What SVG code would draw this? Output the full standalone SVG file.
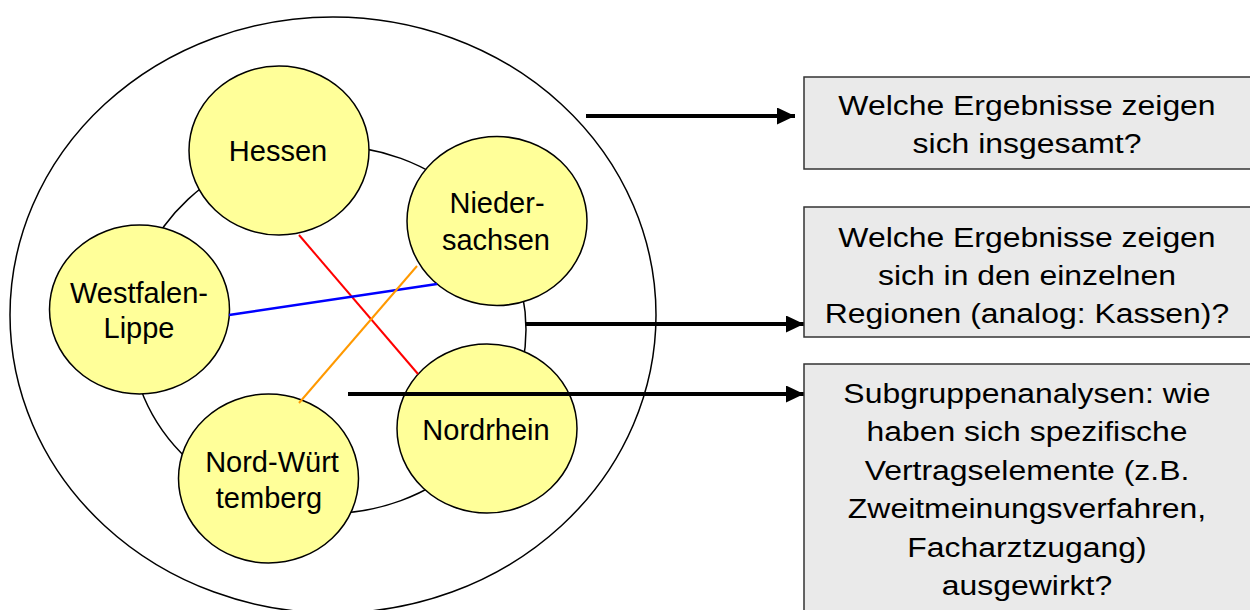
<svg xmlns="http://www.w3.org/2000/svg" width="1250" height="610" viewBox="0 0 1250 610">
<style>
.ring{fill:none;stroke:#000;stroke-width:1.5}
.node{fill:#ffff99;stroke:#000;stroke-width:1.5}
.nt{font-family:"Liberation Sans",Arial,sans-serif;font-size:29px;fill:#000;text-anchor:middle}
.box{fill:#eaeaea;stroke:#333;stroke-width:1.5}
.bt{font-family:"Liberation Sans",Arial,sans-serif;font-size:28px;fill:#000;text-anchor:middle}
.arr{stroke:#000;stroke-width:4;fill:none;marker-end:url(#ah)}
</style>
<defs>
<marker id="ah" markerUnits="userSpaceOnUse" markerWidth="18" markerHeight="17" refX="18" refY="8.5" orient="auto">
<path d="M0,0 L18,8.5 L0,17 z" fill="#000"/>
</marker>
</defs>
<rect width="1250" height="610" fill="#fff"/>
<g id="rings">
<ellipse class="ring" cx="333" cy="315" rx="323" ry="298"/>
<ellipse class="ring" cx="328" cy="329.5" rx="198" ry="184"/>
</g>
<g id="hessen">
<ellipse class="node" cx="279" cy="150.5" rx="90" ry="84.5"/>
<text class="nt" x="278" y="161">Hessen</text>
</g>
<g id="niedersachsen">
<ellipse class="node" cx="497" cy="221" rx="90" ry="84.5"/>
<text class="nt" x="497" y="213">Nieder-</text>
<text class="nt" x="496" y="250">sachsen</text>
</g>
<g id="westfalen-lippe">
<ellipse class="node" cx="139.5" cy="309.5" rx="90" ry="84.5"/>
<text class="nt" x="139" y="303">Westfalen-</text>
<text class="nt" x="139" y="338">Lippe</text>
</g>
<g id="nordrhein">
<ellipse class="node" cx="487" cy="428.5" rx="90" ry="84.5"/>
<text class="nt" x="486" y="440">Nordrhein</text>
</g>
<g id="nord-wuerttemberg">
<ellipse class="node" cx="268.5" cy="478.5" rx="90" ry="84.5"/>
<text class="nt" x="272" y="472">Nord-Würt</text>
<text class="nt" x="269" y="508">temberg</text>
</g>
<g id="connectors">
<line x1="299" y1="235" x2="418" y2="374" stroke="#ff0000" stroke-width="2"/>
<line x1="229" y1="315" x2="437" y2="284" stroke="#0000ff" stroke-width="2.5"/>
<line x1="299" y1="403" x2="417" y2="266" stroke="#ff9900" stroke-width="2"/>
<line class="arr" x1="586" y1="116" x2="795" y2="116"/>
<line class="arr" x1="526" y1="324" x2="804" y2="324"/>
<line class="arr" x1="348" y1="394" x2="804" y2="394"/>
</g>
<g id="box1">
<rect class="box" x="804" y="77" width="460" height="92"/>
<g transform="translate(1027 0) scale(1.14 1)">
<text class="bt" x="0" y="115">Welche Ergebnisse zeigen</text>
<text class="bt" x="0" y="153">sich insgesamt?</text>
</g>
</g>
<g id="box2">
<rect class="box" x="804" y="207" width="460" height="130"/>
<g transform="translate(1027 0) scale(1.14 1)">
<text class="bt" x="0" y="247">Welche Ergebnisse zeigen</text>
<text class="bt" x="0" y="285">sich in den einzelnen</text>
<text class="bt" x="0" y="323">Regionen (analog: Kassen)?</text>
</g>
</g>
<g id="box3">
<rect class="box" x="804" y="364" width="460" height="260"/>
<g transform="translate(1027 0) scale(1.14 1)">
<text class="bt" x="0" y="403">Subgruppenanalysen: wie</text>
<text class="bt" x="0" y="441.5">haben sich spezifische</text>
<text class="bt" x="0" y="480">Vertragselemente (z.B.</text>
<text class="bt" x="0" y="518.5">Zweitmeinungsverfahren,</text>
<text class="bt" x="0" y="557">Facharztzugang)</text>
<text class="bt" x="0" y="595.5">ausgewirkt?</text>
</g>
</g>
</svg>
